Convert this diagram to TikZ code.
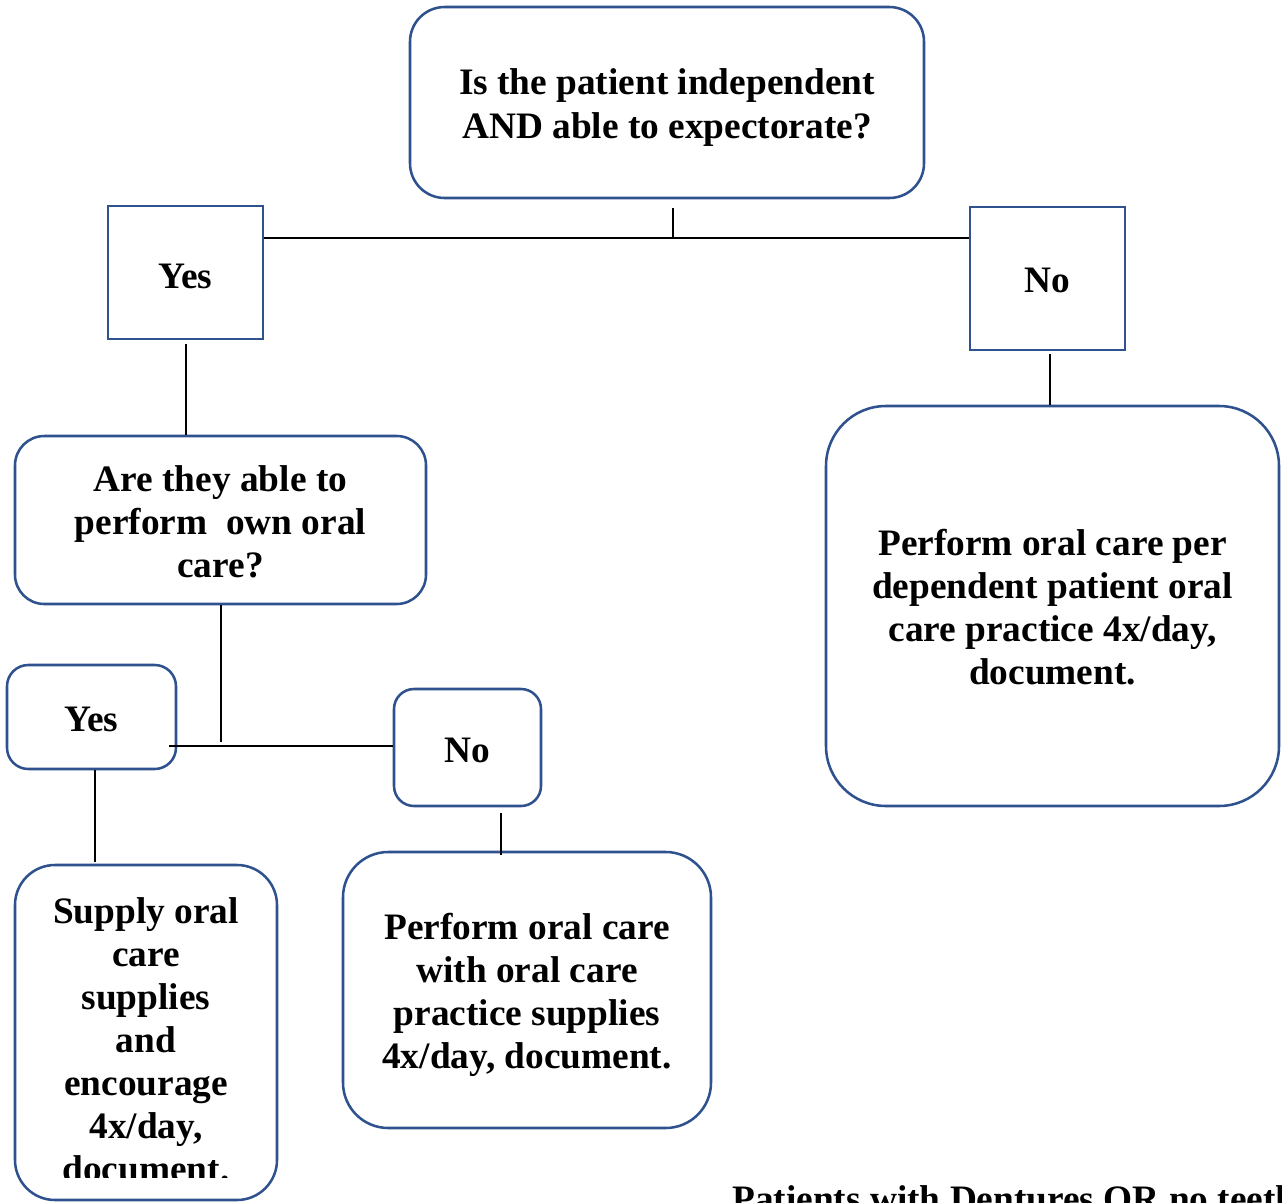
\documentclass[tikz,border=0pt]{standalone}
\usepackage{fontspec}
\setmainfont{Liberation Serif}
\usetikzlibrary{calc}
\definecolor{boxblue}{RGB}{47,82,143}
\tikzset{
  every node/.style={font=\fontsize{28pt}{32.3pt}\selectfont\bfseries, align=center, inner sep=0pt},
  rbox/.style={draw=boxblue, line width=1.9pt, rectangle, rounded corners=#1},
  sbox/.style={draw=boxblue, line width=1.9pt, rectangle},
  conn/.style={draw=black, line width=1.5pt}
}
\begin{document}
\begin{tikzpicture}[x=0.75pt,y=-0.75pt]
\clip (0,0) rectangle (1282,1203);
\fill[white] (0,0) rectangle (1282,1203);
% boxes
\node[rbox=26pt, minimum width=385.5pt, minimum height=143.25pt] (top) at (667,102.5) {};
\node (topt) at (667,107.5) {Is the patient independent\\AND able to expectorate?};
\node[sbox, minimum width=116.25pt, minimum height=99.75pt] (yes1) at (185.5,272.5) {};
\node (yes1t) at (185.5,276.5) {Yes};
\node[sbox, minimum width=116.25pt, minimum height=107.25pt] (no1) at (1047.5,278.5) {};
\node (no1t) at (1047,280.5) {No};
\node[rbox=45pt, minimum width=339.75pt, minimum height=300pt] (right) at (1052.5,606) {};
\node (rightt) at (1052.5,607) {Perform oral care per\\dependent patient oral\\care practice 4x/day,\\document.};
\node[rbox=22pt, minimum width=308.25pt, minimum height=126pt] (able) at (220.5,520) {};
\node (ablet) at (220.5,522) {Are they able to\\perform\ \ own oral\\care?};
\node[rbox=16pt, minimum width=126.75pt, minimum height=78pt] (yes2) at (91.5,717) {};
\node (yes2t) at (91.5,719) {Yes};
\node[rbox=15pt, minimum width=110.25pt, minimum height=87.75pt] (no2) at (467.5,747.5) {};
\node (no2t) at (467,750.5) {No};
\node[rbox=30pt, minimum width=196.5pt, minimum height=251.25pt] (supply) at (146,1032.5) {};
\begin{scope}
\clip (15,865) rectangle (277,1177);
\node (supplyt) at (146,1040) {Supply oral\\care\\supplies\\and\\encourage\\4x/day,\\document.};
\end{scope}
\node[rbox=34pt, minimum width=276pt, minimum height=207pt] (perf) at (527,990) {};
\node (perft) at (527,995) {Perform oral care\\with oral care\\practice supplies\\4x/day, document.};
\node[anchor=base west] (note) at (732,1211) {Patients with Dentures OR no teeth};
% connectors
\coordinate (j1) at (673,238);
\coordinate (j2) at (221,746);
\draw[conn] ($(top.south -| j1)+(0,9)$) -- (j1);
\draw[conn] (yes1.east |- j1) -- (no1.west |- j1);
\draw[conn] ($(yes1.south)+(0,4)$) -- (yes1.south |- able.north);
\draw[conn] ($(no1.south)+(2.5,3)$) -- ($(no1.south |- right.north)+(2.5,0)$);
\draw[conn] (able.south) -- ($(able.south |- j2)+(0,-4)$);
\draw[conn] ($(yes2.east |- j2)+(-8,0)$) -- (no2.west |- j2);
\draw[conn] ($(yes2.south)+(3.5,0)$) -- ($(yes2.south |- supply.north)+(3.5,-2)$);
\draw[conn] ($(no2.south)+(33.5,6)$) -- ($(no2.south |- perf.north)+(33.5,4)$);
\end{tikzpicture}
\end{document}
